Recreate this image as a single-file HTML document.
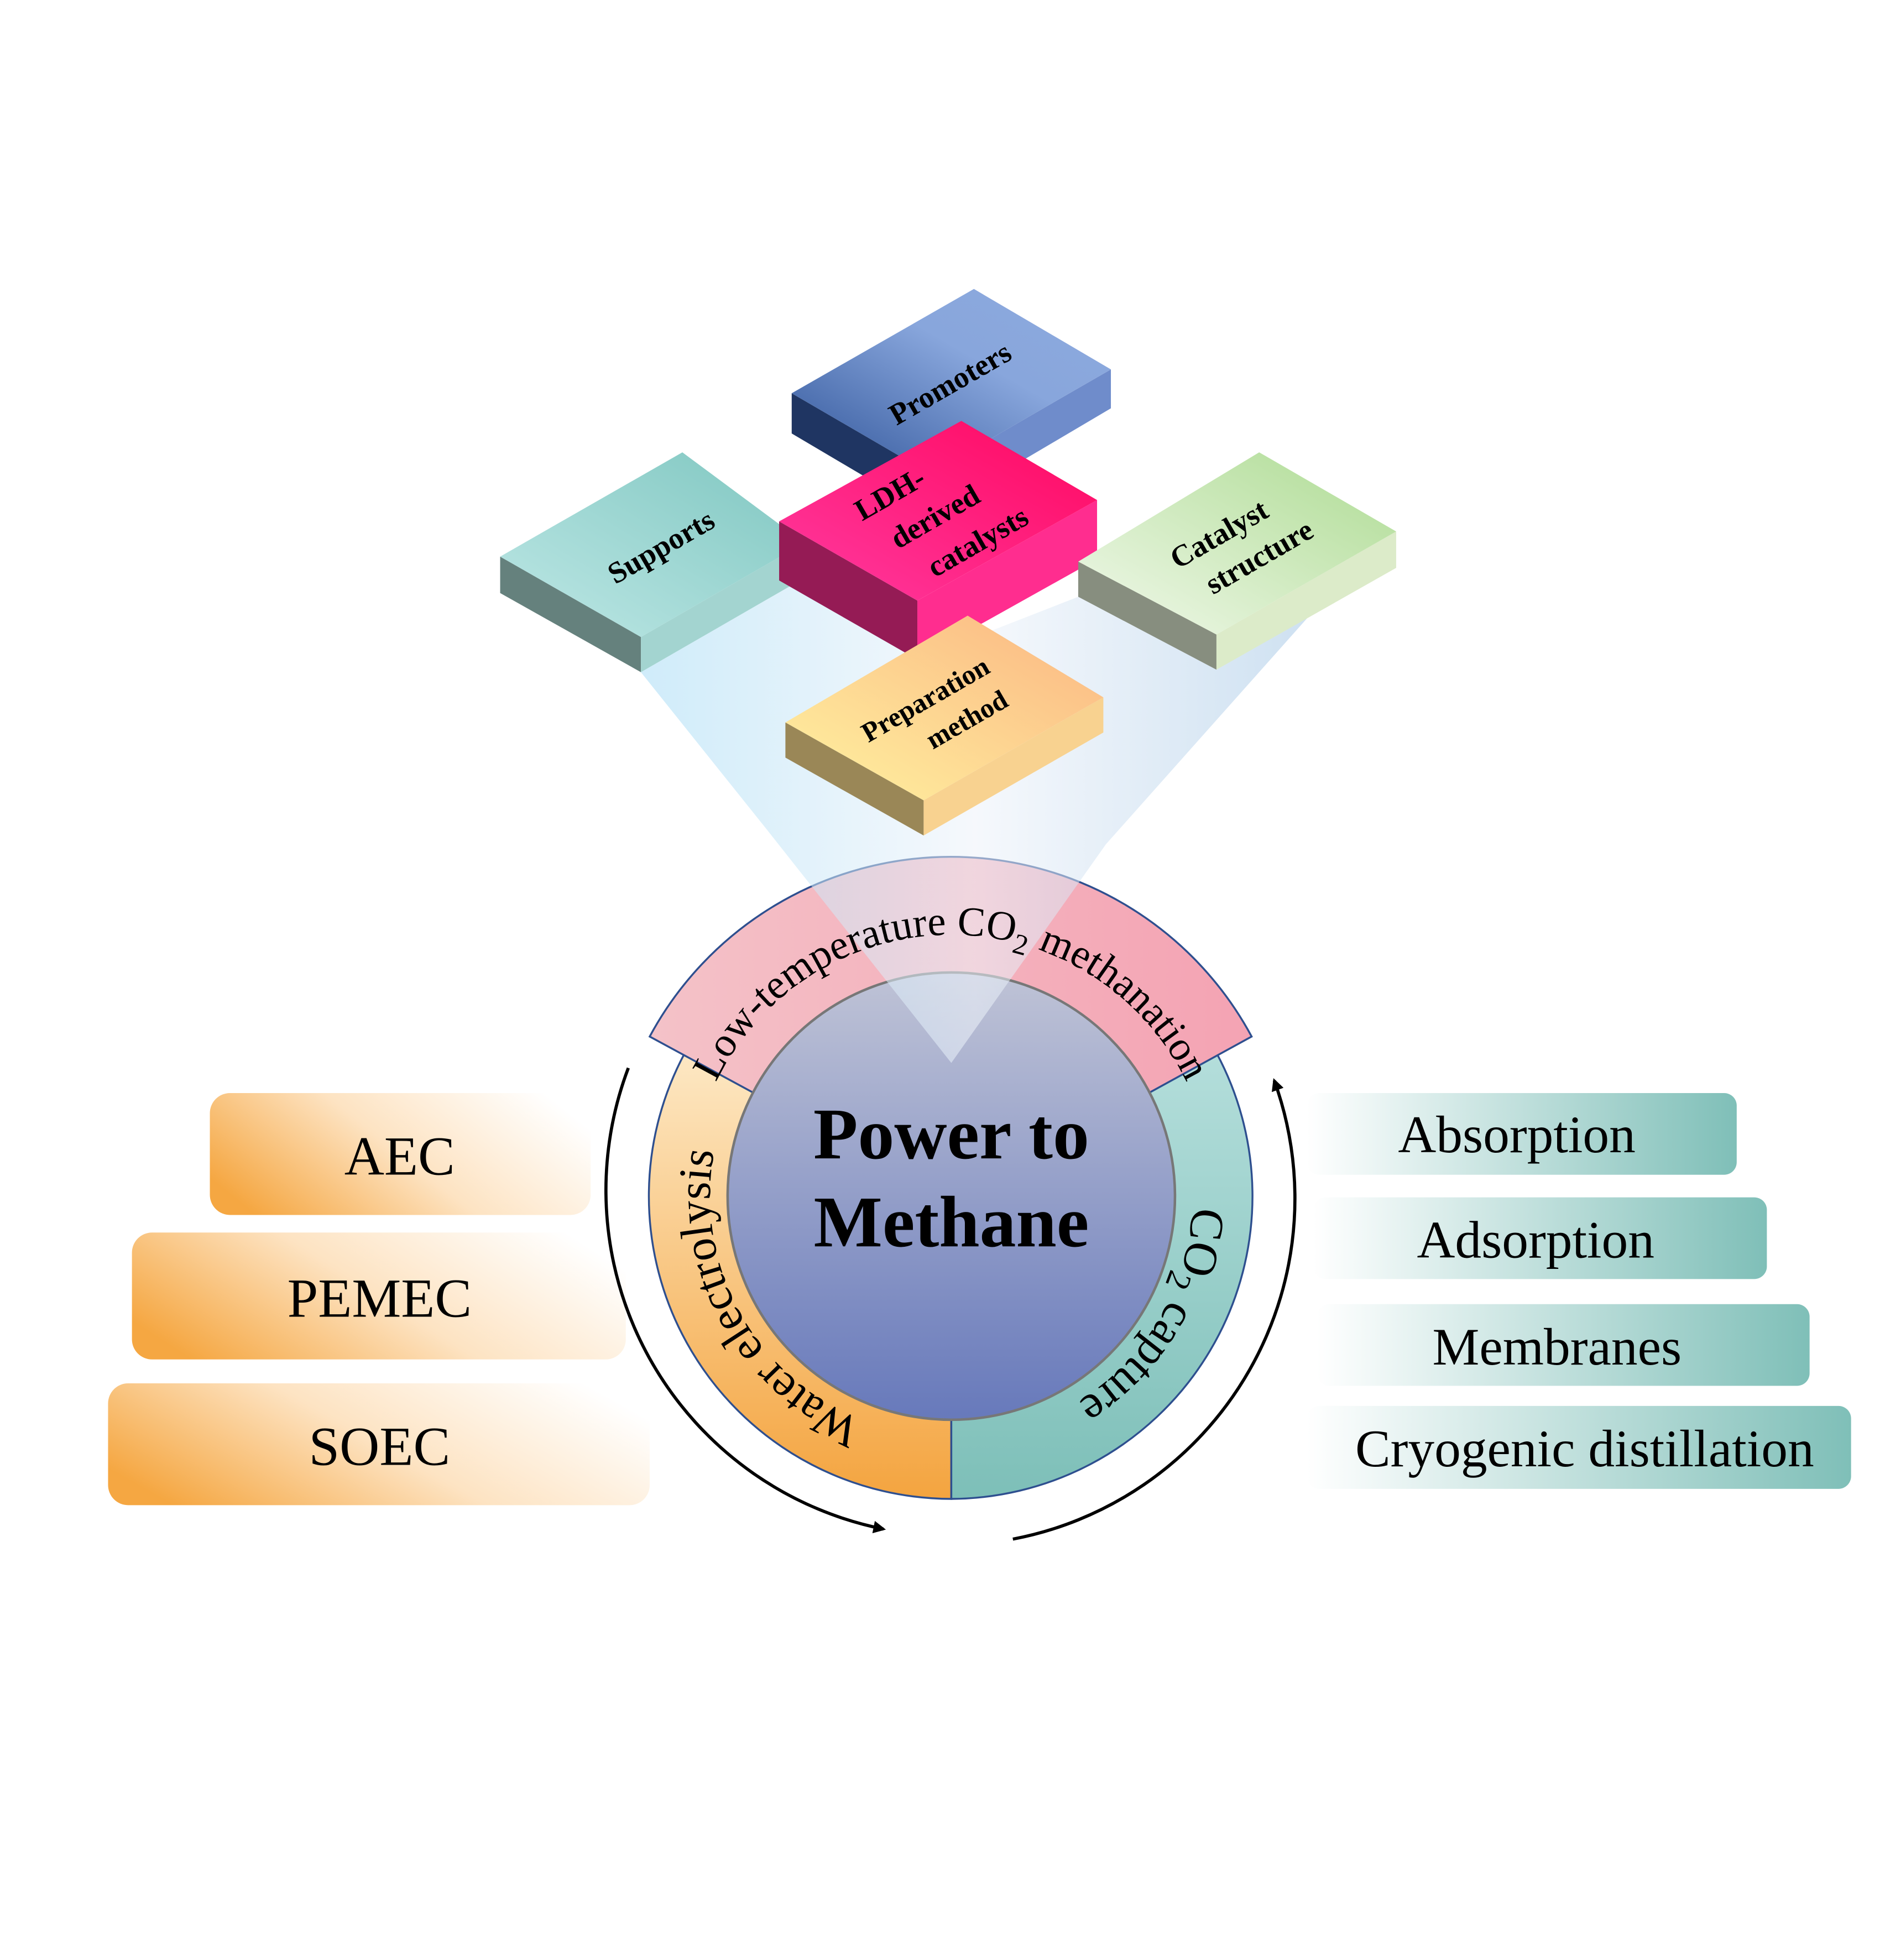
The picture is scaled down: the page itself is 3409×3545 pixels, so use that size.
<!DOCTYPE html>
<html><head><meta charset="utf-8"><style>
html,body{margin:0;padding:0;background:#fff}
svg{display:block}
text{font-family:"Liberation Serif",serif}
</style></head><body>
<svg width="3409" height="3545" viewBox="0 0 1500 1560" preserveAspectRatio="none" xmlns="http://www.w3.org/2000/svg">
<defs>
<linearGradient id="orangeBox" x1="0" y1="0.7" x2="1" y2="0.3"><stop offset="0" stop-color="#f5a742"/><stop offset="0.5" stop-color="#fde3c2"/><stop offset="1" stop-color="#ffffff"/></linearGradient>
<linearGradient id="tealBox" x1="0" y1="0" x2="1" y2="0"><stop offset="0" stop-color="#ffffff"/><stop offset="1" stop-color="#7fbfb8"/></linearGradient>
<linearGradient id="core" x1="0" y1="0" x2="0" y2="1"><stop offset="0" stop-color="#bfc3d6"/><stop offset="1" stop-color="#6779bb"/></linearGradient>
<linearGradient id="water" x1="0" y1="0" x2="0" y2="1"><stop offset="0" stop-color="#fde8c4"/><stop offset="1" stop-color="#f4a43f"/></linearGradient>
<linearGradient id="teal" x1="0" y1="0" x2="0" y2="1"><stop offset="0" stop-color="#b4dedb"/><stop offset="1" stop-color="#7dbfb8"/></linearGradient>
<linearGradient id="pink" x1="0" y1="0" x2="1" y2="0"><stop offset="0" stop-color="#f4c2c8"/><stop offset="1" stop-color="#f4a3b3"/></linearGradient>
<linearGradient id="beam" x1="0" y1="0" x2="1" y2="0"><stop offset="0" stop-color="#a8dcf5"/><stop offset="0.5" stop-color="#eef3fa"/><stop offset="1" stop-color="#a6c8e6"/></linearGradient>
<linearGradient id="gSup" x1="0" y1="1" x2="1" y2="0"><stop offset="0" stop-color="#bfe8e6"/><stop offset="1" stop-color="#7ec6c0"/></linearGradient>
<linearGradient id="gPro" x1="0" y1="1" x2="1" y2="0"><stop offset="0" stop-color="#2e5398"/><stop offset="0.6" stop-color="#88a6dc"/><stop offset="1" stop-color="#8eaade"/></linearGradient>
<linearGradient id="gLdh" x1="0" y1="1" x2="1" y2="0"><stop offset="0" stop-color="#ff3aa0"/><stop offset="1" stop-color="#ff0860"/></linearGradient>
<linearGradient id="gCat" x1="0" y1="1" x2="1" y2="0"><stop offset="0" stop-color="#f2f9ec"/><stop offset="1" stop-color="#addb92"/></linearGradient>
<linearGradient id="gPre" x1="0" y1="1" x2="1" y2="0"><stop offset="0" stop-color="#fff3a0"/><stop offset="1" stop-color="#fbb582"/></linearGradient>
<marker id="ah" markerWidth="10" markerHeight="10" refX="8" refY="5" orient="auto" markerUnits="userSpaceOnUse"><path d="M0,0 L10,5 L0,10 z" fill="#000"/></marker>
<path id="pLow" d="M 549 952 A 208 208 0 0 1 965 952"/>
<path id="pWat" d="M 757 1144 A 192 192 0 0 1 565 952 A 192 192 0 0 1 757 760"/>
<path id="pCO2" d="M 757 760 A 192 192 0 0 1 949 952 A 192 192 0 0 1 757 1144"/>
</defs>

<rect x="167" y="870" width="303" height="97" rx="16" fill="url(#orangeBox)"/>
<rect x="105" y="981" width="393" height="101" rx="16" fill="url(#orangeBox)"/>
<rect x="86" y="1101" width="431" height="97" rx="16" fill="url(#orangeBox)"/>
<text x="318" y="935" font-size="44" text-anchor="middle">AEC</text>
<text x="302" y="1048" font-size="44" text-anchor="middle">PEMEC</text>
<text x="302" y="1166" font-size="44" text-anchor="middle">SOEC</text>

<rect x="1040" y="870" width="342" height="65" rx="10" fill="url(#tealBox)"/>
<rect x="1045" y="953" width="361" height="65" rx="10" fill="url(#tealBox)"/>
<rect x="1048" y="1038" width="392" height="65" rx="10" fill="url(#tealBox)"/>
<rect x="1040" y="1119" width="433" height="66" rx="10" fill="url(#tealBox)"/>
<text x="1207" y="917" font-size="42" text-anchor="middle">Absorption</text>
<text x="1222" y="1001" font-size="42" text-anchor="middle">Adsorption</text>
<text x="1239" y="1086" font-size="42" text-anchor="middle">Membranes</text>
<text x="1261" y="1167" font-size="42" text-anchor="middle">Cryogenic distillation</text>

<path d="M 757 1193 A 241 241 0 0 1 545 838 L 600 868 A 178 178 0 0 0 757 1130 Z" fill="url(#water)" stroke="#2e4f8f" stroke-width="1.5"/>
<path d="M 757 1193 A 241 241 0 0 0 968 838 L 914 868 A 178 178 0 0 1 757 1130 Z" fill="url(#teal)" stroke="#2e4f8f" stroke-width="1.5"/>
<path d="M 517 825 A 272 272 0 0 1 996 825 L 914 870 A 178 178 0 0 0 600 870 Z" fill="url(#pink)" stroke="#2e4f8f" stroke-width="1.5"/>
<circle cx="757" cy="952" r="178" fill="url(#core)" stroke="#777" stroke-width="2"/>

<polygon points="510,535 640,460 730,525 858,475 968,533 1042,490 880,672 757,846 610,660" fill="url(#beam)" opacity="0.55"/>

<text font-size="33"><textPath href="#pLow" startOffset="50%" text-anchor="middle">Low-temperature CO<tspan font-size="23" dy="8">2</tspan><tspan dy="-8"> methanation</tspan></textPath></text>
<text font-size="37"><textPath href="#pWat" startOffset="34%" text-anchor="middle">Water electrolysis</textPath></text>
<text font-size="38"><textPath href="#pCO2" startOffset="67%" text-anchor="middle">CO<tspan font-size="27" dy="8">2</tspan><tspan dy="-8"> capture</tspan></textPath></text>

<text x="757" y="922" font-size="58" font-weight="bold" text-anchor="middle">Power to</text>
<text x="757" y="992" font-size="58" font-weight="bold" text-anchor="middle">Methane</text>

<path d="M 500 850 A 275 275 0 0 0 703 1217" fill="none" stroke="#000" stroke-width="2.5" marker-end="url(#ah)"/>
<path d="M 806 1225 A 276 276 0 0 0 1014 860" fill="none" stroke="#000" stroke-width="2.5" marker-end="url(#ah)"/>

<polygon points="630,313 740,377 740,410 630,345" fill="#1f3562"/>
<polygon points="740,377 884,294 884,325 740,410" fill="#6f8ccb"/>
<polygon points="630,313 775,230 884,294 740,377" fill="url(#gPro)"/>
<text transform="translate(760,312) rotate(-30)" font-size="24" font-weight="bold" text-anchor="middle">Promoters</text>

<polygon points="398,443 510,507 510,535 398,472" fill="#65817d"/>
<polygon points="510,507 640,432 640,460 510,535" fill="#a3d4d0"/>
<polygon points="398,443 543,360 640,432 510,507" fill="url(#gSup)"/>
<text transform="translate(530,442) rotate(-30)" font-size="24" font-weight="bold" text-anchor="middle">Supports</text>

<polygon points="620,415 730,478 730,525 620,462" fill="#951b55"/>
<polygon points="730,478 873,398 873,445 730,525" fill="#ff2d8f"/>
<polygon points="620,415 765,335 873,398 730,478" fill="url(#gLdh)"/>
<g font-size="24" font-weight="bold" text-anchor="middle">
<text transform="translate(712,400) rotate(-30)">LDH-</text>
<text transform="translate(748,418) rotate(-30)">derived</text>
<text transform="translate(782,438) rotate(-30)">catalysts</text>
</g>

<polygon points="858,447 968,505 968,533 858,475" fill="#878e7f"/>
<polygon points="968,505 1111,423 1111,452 968,533" fill="#dcebc9"/>
<polygon points="858,447 1002,360 1111,423 968,505" fill="url(#gCat)"/>
<g font-size="24" font-weight="bold" text-anchor="middle">
<text transform="translate(974,432) rotate(-30)">Catalyst</text>
<text transform="translate(1006,450) rotate(-30)">structure</text>
</g>

<polygon points="625,575 735,637 735,665 625,603" fill="#9a8757"/>
<polygon points="735,637 878,555 878,583 735,665" fill="#f8d290"/>
<polygon points="625,575 770,490 878,555 735,637" fill="url(#gPre)"/>
<g font-size="22" font-weight="bold" text-anchor="middle">
<text transform="translate(740,563) rotate(-30)">Preparation</text>
<text transform="translate(773,579) rotate(-30)">method</text>
</g>
</svg>
</body></html>
